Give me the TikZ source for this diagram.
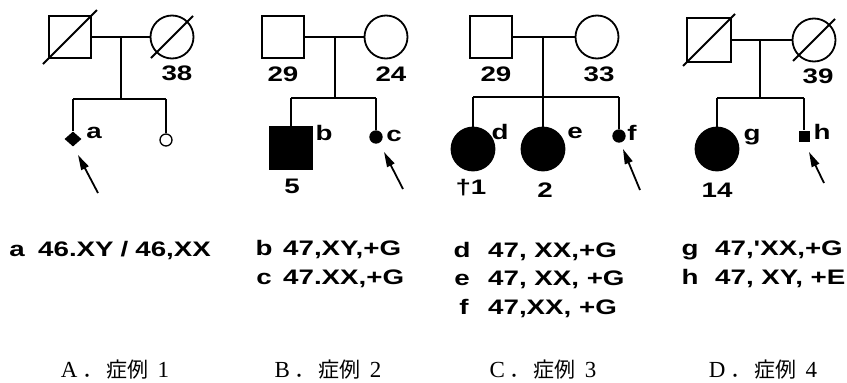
\documentclass[tikz,border=0pt]{standalone}
\usepackage{fontspec}
\usetikzlibrary{shapes.geometric,arrows.meta,calc}
\newfontfamily\kfont[FakeStretch=1.32]{Liberation Sans}
\newfontfamily\serifA{Liberation Serif}
\newfontfamily\cjk{Noto Sans CJK JP}
\begin{document}
\begin{tikzpicture}[x=1pt,y=-1pt]
\tikzset{
 ln/.style={line width=1.8pt},
 male/.style={draw, line width=1.8pt, minimum size=42pt, inner sep=0pt},
 female/.style={circle, draw, line width=1.8pt, minimum size=43pt, inner sep=0pt},
 aff/.style={fill=black},
 tinyc/.style={circle, draw, line width=1.3pt, minimum size=12pt, inner sep=0pt},
 lab/.style={font=\kfont\bfseries\fontsize{21}{25}\selectfont, inner sep=0pt},
 kar/.style={font=\kfont\bfseries\fontsize{21}{25}\selectfont, inner sep=0pt, anchor=base west},
 klet/.style={font=\kfont\bfseries\fontsize{21}{25}\selectfont, inner sep=0pt, anchor=base},
 captext/.style={inner sep=0pt, anchor=base},
 pro/.style={-{Triangle[length=15pt,width=8pt]}, line width=1.8pt},
}
\newcommand{\capline}[2]{{\serifA\fontsize{23}{27}\selectfont #1}\hspace{5pt}{\cjk\fontsize{21}{25}\selectfont ．\hspace{3pt}症例}\hspace{9pt}{\serifA\fontsize{23}{27}\selectfont #2}}
\fill[white] (0,0) rectangle (847,383);
\useasboundingbox (0,0) rectangle (847,383);

% ---------- A ----------
\node[male] (F1) at (70,37) {};
\node[female] (M1) at (172,37) {};
\draw[ln] ($(F1)+(-27,27)$) -- ($(F1)+(27,-27)$);
\draw[ln] ($(M1)+(-21,21)$) -- ($(M1)+(21,-21)$);
\coordinate (J1) at (121,37);
\coordinate (S1) at (121,99);
\coordinate (L1) at (73,99);
\coordinate (R1) at (166,99);
\node[diamond, fill=black, minimum width=17pt, minimum height=15pt, inner sep=0pt] (A1) at (73,139) {};
\node[tinyc] (B1) at (166,140) {};
\draw[ln] (F1.east) -- (M1.west);
\draw[ln] (J1) -- (S1);
\draw[ln] (L1) -- (R1);
\draw[ln] (L1) -- (A1.north);
\draw[ln] (R1) -- (B1.north);
\node[lab] (t38) at (177,73) {38};
\node[lab] (ta) at (94,133) {a};
\coordinate (P1t) at (98,193);
\coordinate (P1h) at (78,155);
\draw[pro] (P1t) -- (P1h);

% ---------- B ----------
\node[male] (F2) at (283,37) {};
\node[female] (M2) at (386,37) {};
\coordinate (J2) at (335,37);
\coordinate (S2) at (335,98);
\coordinate (L2) at (291,98);
\coordinate (R2) at (376,98);
\node[male, aff, minimum size=43pt] (A2) at (291,148) {};
\node[tinyc, aff] (B2) at (376,137) {};
\draw[ln] (F2.east) -- (M2.west);
\draw[ln] (J2) -- (S2);
\draw[ln] (L2) -- (R2);
\draw[ln] (L2) -- (A2.north);
\draw[ln] (R2) -- (B2.north);
\node[lab] (t29b) at (283,74) {29};
\node[lab] (t24) at (391,74) {24};
\node[lab] (tb) at (324,133) {b};
\node[lab] (t5) at (292,186) {5};
\node[lab] (tc) at (394,136) {c};
\coordinate (P2t) at (403,189);
\coordinate (P2h) at (384,152);
\draw[pro] (P2t) -- (P2h);

% ---------- C ----------
\node[male] (F3) at (491,37) {};
\node[female] (M3) at (597,37) {};
\coordinate (J3) at (543,37);
\coordinate (S3) at (543,97);
\coordinate (L3) at (473,97);
\coordinate (R3) at (619,97);
\node[female, aff] (A3) at (473,149) {};
\node[female, aff] (B3) at (543,149) {};
\node[tinyc, aff] (C3) at (619,136) {};
\draw[ln] (F3.east) -- (M3.west);
\draw[ln] (J3) -- (S3);
\draw[ln] (L3) -- (R3);
\draw[ln] (L3) -- (A3.north);
\draw[ln] (S3) -- (B3.north);
\draw[ln] (R3) -- (C3.north);
\node[lab] (t29c) at (496,74) {29};
\node[lab] (t33) at (599,74) {33};
\node[lab] (td) at (500,132) {d};
\node[lab] (te) at (575,133) {e};
\node[lab] (tf) at (632,133) {f};
\node[lab] (td1) at (471,188) {†1};
\node[lab] (t2) at (545,190) {2};
\coordinate (P3t) at (640,190);
\coordinate (P3h) at (623,149);
\draw[pro] (P3t) -- (P3h);

% ---------- D ----------
\node[male, minimum size=44pt] (F4) at (709,40) {};
\node[female] (M4) at (814,40) {};
\draw[ln] ($(F4)+(-26,26)$) -- ($(F4)+(26,-26)$);
\draw[ln] ($(M4)+(-21,21)$) -- ($(M4)+(21,-21)$);
\coordinate (J4) at (760,40);
\coordinate (S4) at (760,98);
\coordinate (L4) at (717,98);
\coordinate (R4) at (804,98);
\node[female, aff] (A4) at (717,149) {};
\node[fill=black, minimum size=11pt, inner sep=0pt] (B4) at (804,136) {};
\draw[ln] (F4.east) -- (M4.west);
\draw[ln] (J4) -- (S4);
\draw[ln] (L4) -- (R4);
\draw[ln] (L4) -- (A4.north);
\draw[ln] (R4) -- (B4.north);
\node[lab] (t39) at (818,76) {39};
\node[lab] (tg) at (752,137) {g};
\node[lab] (th) at (822,132) {h};
\node[lab] (t14) at (717,190) {14};
\coordinate (P4t) at (824,183);
\coordinate (P4h) at (809,152);
\draw[pro] (P4t) -- (P4h);

% ---------- karyotypes ----------
\node[klet] (ka) at (17,256.5) {a};
\node[kar] (kA) at (38,256.5) {46.XY\hspace{7pt}/\hspace{7pt}46,XX};
\node[klet] (kb) at (264,255.5) {b};
\node[kar] (kB) at (283,255.5) {47,XY,+G};
\node[klet] (kc) at (264,284.5) {c};
\node[kar] (kC) at (283,284.5) {47.XX,+G};
\node[klet] (kd) at (462,257.5) {d};
\node[kar] (kD) at (488,257.5) {47, XX,+G};
\node[klet] (ke) at (462,285.5) {e};
\node[kar] (kE) at (488,285.5) {47, XX, +G};
\node[klet] (kf) at (464,314.5) {f};
\node[kar] (kF) at (488,314.5) {47,XX, +G};
\node[klet] (kg) at (690,255.5) {g};
\node[kar] (kG) at (715,255.5) {47,'XX,+G};
\node[klet] (kh) at (690,284.5) {h};
\node[kar] (kH) at (715,284.5) {47, XY, +E};

% ---------- captions ----------
\node[captext] (capA) at (115,377) {\capline{A}{1}};
\node[captext] (capB) at (328,377) {\capline{B}{2}};
\node[captext] (capC) at (543,377) {\capline{C}{3}};
\node[captext] (capD) at (763,377) {\capline{D}{4}};
\end{tikzpicture}
\end{document}
